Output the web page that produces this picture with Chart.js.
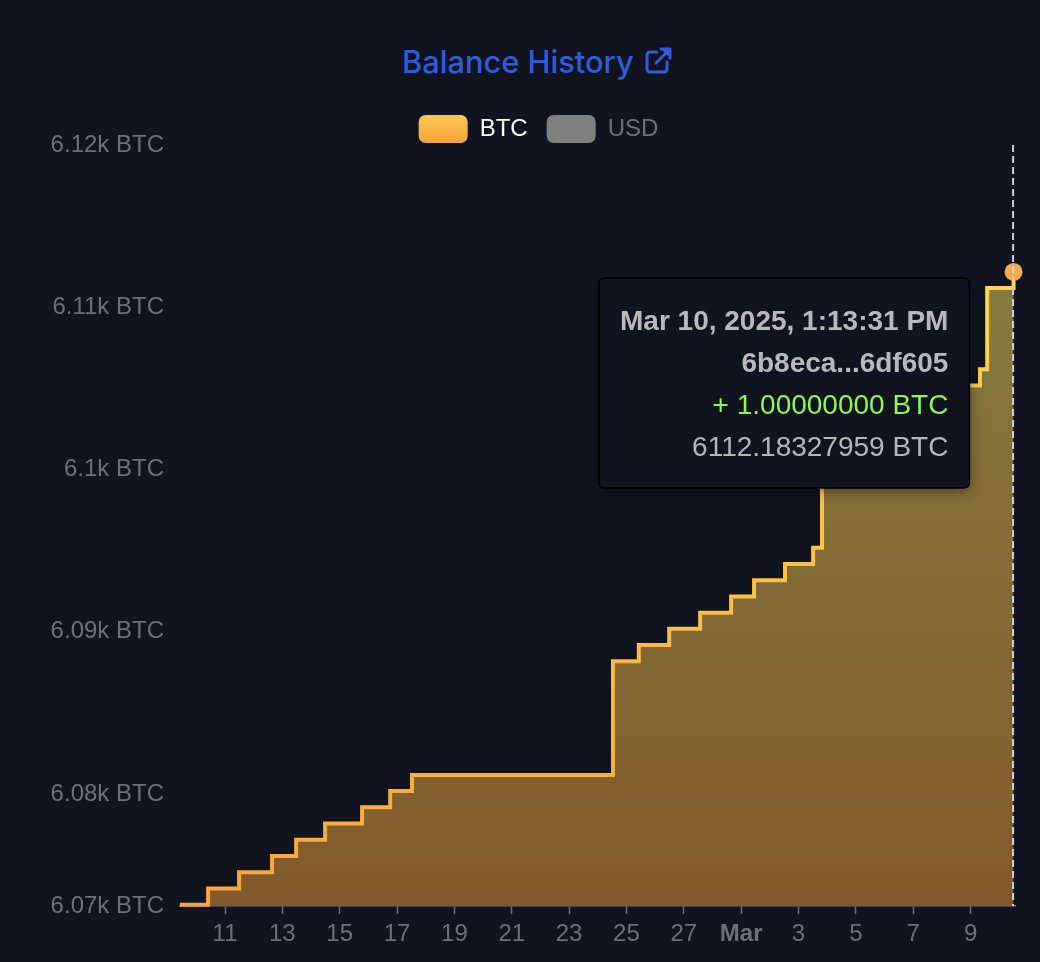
<!DOCTYPE html>
<html>
<head>
<meta charset="utf-8">
<title>Balance History</title>
<script src="https://cdn.jsdelivr.net/npm/chart.js@4"></script>
<style>
  html, body { margin: 0; padding: 0; background: #11141f; width: 1040px; height: 962px; overflow: hidden; }
  #wrap { position: relative; width: 1040px; height: 962px; }
  canvas { position: absolute; left: 0; top: 0; }
  #title { position: absolute; left: 402px; top: 42px; height: 40px; line-height: 40px; white-space: nowrap;
           font-family: Inter, sans-serif; font-weight: 500; font-size: 30.8px; color: #2f5bd8; }
  #title svg { position: absolute; left: 243px; top: 5px; }
</style>
</head>
<body>
<div id="wrap">
  <div id="title">Balance History<svg width="27" height="27" viewBox="0 0 27 27" fill="none" stroke="#2f5bd8" stroke-width="3" stroke-linecap="round" stroke-linejoin="round"><path d="M12 5H5a3 3 0 0 0-3 3v14a3 3 0 0 0 3 3h14a3 3 0 0 0 3-3v-7"/><path d="M11 16L24 3"/><path d="M16 2h9v9" fill="#2f5bd8"/></svg></div>
  <canvas id="c" width="1040" height="962"></canvas>
</div>
<script>
// x values are days counted from Feb 1 = 1 (so Mar 1 = 29)
const stepDays = [9.43, 10.41, 11.49, 12.64, 13.48, 14.49, 15.78, 16.76, 17.52, 24.53, 25.43, 26.49, 27.57, 28.65, 29.45, 30.53, 31.51, 31.82, 37.33, 37.58, 38.49, 38.50];
const btcBalance = [6073.18, 6074.18, 6075.18, 6076.18, 6077.18, 6078.18, 6079.18, 6080.18, 6081.18, 6088.18, 6089.18, 6090.18, 6091.18, 6092.18, 6093.18, 6094.18, 6095.18, 6105.18, 6106.18, 6111.18, 6111.18, 6112.18];
const usdBalance = [];
const xTickValues = [11, 13, 15, 17, 19, 21, 23, 25, 27, 29, 31, 33, 35, 37];
const xTickLabels = ['11', '13', '15', '17', '19', '21', '23', '25', '27', 'Mar', '3', '5', '7', '9'];
const yTickValues = [6073.1, 6080, 6090, 6100, 6110, 6120];
const yTickLabels = ['6.07k BTC', '6.08k BTC', '6.09k BTC', '6.1k BTC', '6.11k BTC', '6.12k BTC'];
const seriesNames = ['BTC', 'USD'];
const tooltipTitle = ['Mar 10, 2025, 1:13:31 PM', '6b8eca...6df605'];
const tooltipChange = '+ 1.00000000 BTC';
const tooltipBalance = '6112.18327959 BTC';

const FONT = '"Liberation Sans", Arial, sans-serif';
const ctx = document.getElementById('c').getContext('2d');
const lastIndex = stepDays.length - 1;
const points = stepDays.map((d, i) => ({ x: d, y: btcBalance[i] }));

function vGrad(area, stops) {
  const g = ctx.createLinearGradient(0, area.top, 0, area.bottom);
  stops.forEach(s => g.addColorStop(s[0], s[1]));
  return g;
}

Chart.Tooltip.positioners.fixedBox = function () {
  return { x: 605, y: 278, xAlign: 'left', yAlign: 'top' };
};

const helpers = {
  id: 'helpers',
  beforeLayout(chart) {
    const l = chart.legend;
    if (l && !l._patched) {
      const fit = l.fit, draw = l.draw;
      l.fit = function () { fit.call(this); this.height = 49; };
      l.draw = function () {
        const c = this.ctx;
        c.save(); c.translate(31, 0); draw.call(this); c.restore();
      };
      l._patched = true;
    }
  },
  afterDatasetsDraw(chart) {
    const x = chart.scales.x.getPixelForValue(stepDays[lastIndex]);
    const a = chart.chartArea, c = chart.ctx;
    c.save();
    c.strokeStyle = '#cfcfd6';
    c.lineWidth = 2;
    c.setLineDash([7, 4]);
    c.beginPath(); c.moveTo(x - 0.5, a.top); c.lineTo(x - 0.5, a.bottom); c.stroke();
    c.restore();
  },
  beforeTooltipDraw(chart, args) {
    const t = args.tooltip, c = chart.ctx;
    c.save();
    c.shadowColor = 'rgba(0,0,0,0.45)';
    c.shadowBlur = 14;
    c.shadowOffsetY = 3;
    c.fillStyle = '#11141f';
    c.beginPath(); c.roundRect(t.x, t.y, t.width, t.height, 6); c.fill();
    c.restore();
  }
};

const chart = new Chart(ctx, {
  type: 'line',
  plugins: [helpers],
  data: {
    datasets: [
      {
        label: seriesNames[0],
        data: points,
        stepped: true,
        clip: false,
        borderWidth: 4,
        fill: 'start',
        borderColor: c => c.chart.chartArea
          ? vGrad(c.chart.chartArea, [[0, '#ffe04f'], [0.5, '#fdc546'], [1, '#f9a53e']]) : '#f9a53e',
        backgroundColor: c => c.chart.chartArea
          ? vGrad(c.chart.chartArea, [[0, '#878541'], [0.2, '#857a3d'], [1, '#825a2b']]) : '#825a2b',
        pointRadius: c => c.dataIndex === lastIndex ? 9 : 0,
        pointBorderWidth: 0,
        pointBackgroundColor: '#f6ab4a',
        pointHoverRadius: c => c.dataIndex === lastIndex ? 9 : 0,
        pointHoverBorderWidth: 0,
        pointHoverBackgroundColor: '#f6ab4a'
      },
      { label: seriesNames[1], data: usdBalance, hidden: true, borderColor: '#808080', backgroundColor: '#808080' }
    ]
  },
  options: {
    responsive: false,
    animation: false,
    events: [],
    devicePixelRatio: 1,
    layout: { padding: { top: 96, right: 25, bottom: 0, left: 0 } },
    scales: {
      x: {
        type: 'linear',
        min: 9.43,
        max: 38.55,
        afterBuildTicks: s => { s.ticks = xTickValues.map(v => ({ value: v })); },
        afterTickToLabelConversion: s => { s.ticks.forEach((t, i) => { t.label = xTickLabels[i]; }); },
        afterFit: s => { s.height = 56; },
        grid: { drawOnChartArea: false, drawTicks: true, tickLength: 8, tickWidth: 1.5, tickColor: '#6d6f78' },
        border: { display: true, color: '#73757e', width: 1.5 },
        ticks: {
          autoSkip: false, maxRotation: 0, padding: 6, color: '#6d6f78',
          font: c => ({ family: FONT, size: 24, weight: c.tick && c.tick.label === 'Mar' ? 'bold' : 'normal' })
        }
      },
      y: {
        type: 'linear',
        min: 6073.1,
        max: 6120,
        afterBuildTicks: s => { s.ticks = yTickValues.map(v => ({ value: v })); },
        afterTickToLabelConversion: s => { s.ticks.forEach((t, i) => { t.label = yTickLabels[i]; }); },
        afterFit: s => { s.width = 180; },
        grid: { display: false, drawTicks: false },
        border: { display: false },
        ticks: { autoSkip: false, padding: 16, color: '#6d6f78', font: { family: FONT, size: 24 } }
      }
    },
    plugins: {
      title: { display: false },
      legend: {
        display: true,
        position: 'top',
        onClick: null,
        labels: {
          padding: 19,
          boxWidth: 49,
          boxHeight: 28,
          useBorderRadius: true,
          borderRadius: 7,
          font: { family: FONT, size: 24 },
          generateLabels: chart => chart.data.datasets.map((ds, i) => {
            let fill = '#808080';
            if (i === 0) {
              fill = ctx.createLinearGradient(0, 115, 0, 143);
              fill.addColorStop(0, '#fdc94f');
              fill.addColorStop(1, '#f5a23c');
            }
            return {
              text: ds.label,
              datasetIndex: i,
              fillStyle: fill,
              strokeStyle: 'transparent',
              lineWidth: 0,
              borderRadius: 7,
              fontColor: i === 0 ? '#ffffff' : '#6d6f78',
              hidden: false
            };
          })
        }
      },
      tooltip: {
        enabled: true,
        position: 'fixedBox',
        displayColors: false,
        caretSize: 0,
        caretPadding: 0,
        cornerRadius: 6,
        padding: { top: 23, bottom: 19, left: 21, right: 21 },
        backgroundColor: '#11141f',
        borderColor: '#000000',
        borderWidth: 1.5,
        titleAlign: 'right',
        bodyAlign: 'right',
        footerAlign: 'right',
        titleColor: '#b9b9bd',
        bodyColor: '#8ef84f',
        footerColor: '#b5b6ba',
        titleSpacing: 0,
        titleMarginBottom: 0,
        bodySpacing: 0,
        footerSpacing: 0,
        footerMarginTop: 0,
        titleFont: { family: FONT, size: 28, weight: 'bold', lineHeight: '42px' },
        bodyFont: { family: FONT, size: 28, weight: 'normal', lineHeight: '42px' },
        footerFont: { family: FONT, size: 28, weight: 'normal', lineHeight: '42px' },
        callbacks: {
          title: () => tooltipTitle,
          label: () => tooltipChange,
          footer: () => tooltipBalance
        }
      }
    }
  }
});

chart.setActiveElements([{ datasetIndex: 0, index: lastIndex }]);
chart.tooltip.setActiveElements([{ datasetIndex: 0, index: lastIndex }], { x: 0, y: 0 });
chart.update();
</script>
</body>
</html>
